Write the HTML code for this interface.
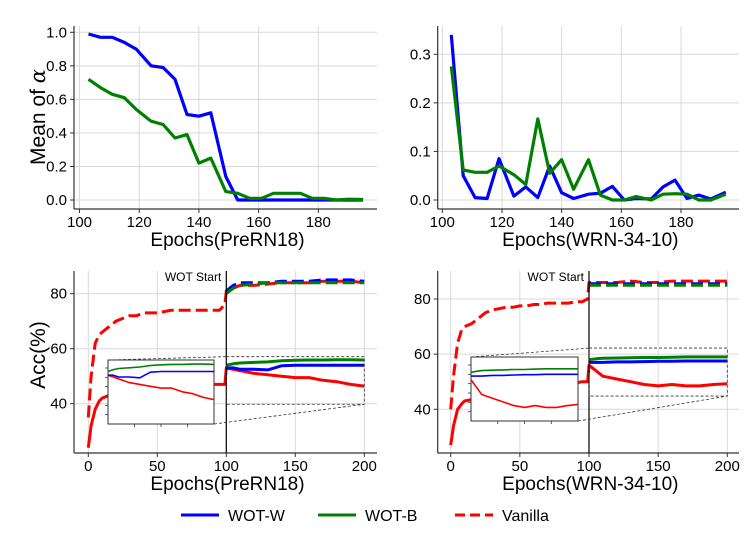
<!DOCTYPE html>
<html><head><meta charset="utf-8"><style>
html,body{margin:0;padding:0;background:#fff;}
svg{display:block;font-family:"Liberation Sans","DejaVu Sans",sans-serif;}
</style></head><body>
<svg id="fig" width="747" height="534" viewBox="0 0 747 534" xmlns="http://www.w3.org/2000/svg"></svg>
<script>
// ---- Top panels data ----
const alphaEpochs = [103,107,111,115,119,124,128,132,136,140,144,149,153,157,161,165,170,174,178,182,186,190,195];
const preBlue  = [0.99,0.97,0.97,0.94,0.90,0.80,0.79,0.72,0.51,0.50,0.52,0.14,0,0,0,0,0,0,0,0,0,0,0];
const preGreen = [0.72,0.67,0.63,0.61,0.54,0.47,0.45,0.37,0.39,0.22,0.25,0.05,0.04,0.01,0.01,0.04,0.04,0.04,0.01,0.01,0,0.005,0.003];
const wrnBlue  = [0.34,0.05,0.005,0.003,0.085,0.008,0.027,0.005,0.07,0.015,0.003,0.012,0.014,0.028,0,0.003,0.002,0.027,0.041,0.003,0.01,0.002,0.016];
const wrnGreen = [0.275,0.062,0.057,0.057,0.07,0.052,0.032,0.167,0.055,0.083,0.022,0.083,0.01,0,0,0.007,0,0.012,0.013,0.012,0,0,0.012];
const preYTicks = [0.0,0.2,0.4,0.6,0.8,1.0];
const wrnYTicks = [0.0,0.1,0.2,0.3];
const alphaXTicks = [100,120,140,160,180];
// ---- Bottom panels data ----
const vanEpochs = [0,2,5,8,10,15,20,25,30,35,40,45,50,55,60,65,70,75,80,85,90,95,99,100,105,110,120,130,140,150,160,170,180,190,200];
const preVanClean = [35,50,62,65,66,68,70,71,72,72,73,73,73,73.5,74,74,74,74,74,74,74,74,76,81,82,83,83,83.5,84,84,84,84.5,84.5,84.5,84];
const preVanRob   = [24,32,38,41,42,43,44,44.5,45,45,45.5,45.5,46,46,46,46,46.5,46.5,46.5,46.5,47,47,47,53,52.5,52,51,50.5,50,49.5,49.5,48.5,48,47,46.4];
const wrnVanClean = [40,52,64,69,70,71,73,75,76,76.5,77,77,77.5,77.5,78,78,78.5,78.5,78.5,78.5,79,79,80,86,86,86,86,86.5,86,86,86.5,86.5,86.5,86.5,86.5];
const wrnVanRob   = [27,34,40,42,43,43.5,44,44.5,45,45,45.5,46,46,46.5,47,47,47.5,48,48,49,49.5,50,50,56,54,52,51,50,49,48.5,49,48.5,48.5,49,49.3];
const wotEpochs = [100,105,110,120,130,140,150,160,170,180,190,200];
const preWotWClean = [81,83,84,84,84,84.5,84.5,84.5,85,85,85,84.5];
const preWotBClean = [80,82,83,83.5,84,84,84,84,84,84,84,84];
const preWotWRob   = [53,53,52.5,52.5,52.3,53.8,54,54,54,54,54,54];
const preWotBRob   = [54,54.5,54.8,55,55.2,55.6,55.8,55.9,55.9,56,56,55.9];
const wrnWotWClean = [85.5,85.5,85.5,85.5,85.5,85.5,85.5,85.5,85.5,85.5,85.5,85.5];
const wrnWotBClean = [85,85,85,85,85,85,85,85,85,85,85,85];
const wrnWotWRob   = [57,57,57,57.2,57.2,57.3,57.4,57.4,57.5,57.5,57.5,57.5];
const wrnWotBRob   = [58,58.3,58.5,58.6,58.7,58.8,58.8,58.9,59,59,59,59];
const accXTicks = [0,50,100,150,200];
const accYTicks = [40,60,80];

const NS="http://www.w3.org/2000/svg";
const svg=document.getElementById('fig');
function mk(tag,attrs,parent){const e=document.createElementNS(NS,tag);for(const k in attrs)e.setAttribute(k,attrs[k]);(parent||svg).appendChild(e);return e;}
function lin(d0,d1,r0,r1){return v=>r0+(v-d0)/(d1-d0)*(r1-r0);}
const BLUE='#0000ff',GREEN='#008000',RED='#ff0000';
function line(xs,ys,sx,sy,color,w,dash,name,parent){
  const p=mk('polyline',{points:xs.map((x,i)=>sx(x).toFixed(1)+','+sy(ys[i]).toFixed(1)).join(' '),fill:'none',stroke:color,'stroke-width':w,'stroke-linejoin':'round'},parent);
  if(dash)p.setAttribute('stroke-dasharray',dash);
  
  
  return p;
}
function axes(P){
  const g=mk('g',{});
  
  
  P.xt.forEach(t=>{const x=P.sx(t);
    mk('line',{x1:x,x2:x,y1:P.top,y2:P.bot,stroke:'#d9d9d9','stroke-width':1},g);
    mk('line',{x1:x,x2:x,y1:P.bot,y2:P.bot+4,stroke:'#333','stroke-width':1},g);
    const t1=mk('text',{x:x,y:P.bot+18,'font-size':15,'text-anchor':'middle',fill:'#000'},g);t1.textContent=P.xf(t);
    
    
  });
  P.yt.forEach(t=>{const y=P.sy(t);
    mk('line',{x1:P.left,x2:P.right,y1:y,y2:y,stroke:'#d9d9d9','stroke-width':1},g);
    mk('line',{x1:P.left-4,x2:P.left,y1:y,y2:y,stroke:'#333','stroke-width':1},g);
    const t1=mk('text',{x:P.left-7,y:y+5,'font-size':15,'text-anchor':'end',fill:'#000'},g);t1.textContent=P.yf(t);
    
    
  });
  mk('line',{x1:P.left,x2:P.left,y1:P.top,y2:P.bot,stroke:'#333','stroke-width':1.2},g);
  mk('line',{x1:P.left,x2:P.right,y1:P.bot,y2:P.bot,stroke:'#333','stroke-width':1.2},g);
  const xl=mk('text',{x:(P.left+P.right)/2+2,y:P.bot+37,'font-size':19,'text-anchor':'middle'},g);xl.textContent=P.xlabel;
  
  
  if(P.ylabel){const yl=mk('text',{x:0,y:0,'font-size':21,'text-anchor':'middle',transform:`translate(45,${P.ylc}) rotate(-90)`},g);yl.innerHTML=P.ylabel;
    
    }
}
// Top-left
{const sx=lin(100,180,79.5,318.3),sy=lin(0,1,200,32.3);
 axes({name:'alpha-prern18-panel',left:74,right:377,top:26,bot:209,sx,sy,xt:alphaXTicks,yt:preYTicks,xf:t=>t,yf:t=>t.toFixed(1),xlabel:'Epochs(PreRN18)',ylabel:'Mean of <tspan font-style="italic" font-family="DejaVu Serif">α</tspan>',ylc:117});
 line(alphaEpochs,preBlue,sx,sy,BLUE,3.2,null,'wot-w-alpha-line');
 line(alphaEpochs,preGreen,sx,sy,GREEN,3.2,null,'wot-b-alpha-line');}
// Top-right
{const sx=lin(100,180,442.3,681),sy=lin(0,0.3,200,54.3);
 axes({name:'alpha-wrn-panel',left:437.7,right:739,top:26,bot:209,sx,sy,xt:alphaXTicks,yt:wrnYTicks,xf:t=>t,yf:t=>t.toFixed(1),xlabel:'Epochs(WRN-34-10)'});
 line(alphaEpochs,wrnBlue,sx,sy,BLUE,3.2,null,'wot-w-alpha-line');
 line(alphaEpochs,wrnGreen,sx,sy,GREEN,3.2,null,'wot-b-alpha-line');}
function accPanel(o){
  const sx=lin(0,200,o.x0,o.x200),sy=lin(40,80,o.y40,o.y80);
  axes({name:o.name,left:o.left,right:o.right,top:271,bot:453,sx,sy,xt:accXTicks,yt:accYTicks,xf:t=>t,yf:t=>t,xlabel:o.xlabel,ylabel:o.ylabel,ylc:355});
  line(vanEpochs,o.vc,sx,sy,RED,3,'12,5','vanilla-clean-line');
  line(vanEpochs,o.vr,sx,sy,RED,3,null,'vanilla-robust-line');
  line(wotEpochs,o.wc,sx,sy,BLUE,3,'12,5','wot-w-clean-line');
  line(wotEpochs,o.bc,sx,sy,GREEN,3,'12,5','wot-b-clean-line');
  line(wotEpochs,o.wr,sx,sy,BLUE,3,null,'wot-w-robust-line');
  line(wotEpochs,o.br,sx,sy,GREEN,3,null,'wot-b-robust-line');
  // vertical start line
  const vx=sx(100);
  mk('line',{x1:vx,x2:vx,y1:271,y2:453,stroke:'#000','stroke-width':1.2});
  const ws=mk('text',{x:vx-5,y:281,'font-size':12,'text-anchor':'end'});ws.textContent='WOT Start';
  
  
  // zoom box
  const bx0=sx(100),bx1=sx(200),by0=sy(o.zt),by1=sy(o.zb);
  const zb=mk('rect',{x:bx0,y:by0,width:bx1-bx0,height:by1-by0,fill:'none',stroke:'#333','stroke-width':0.8,'stroke-dasharray':'3,2'});
  
  
  mk('line',{x1:o.ix0,y1:o.iy0,x2:bx0,y2:by0,stroke:'#333','stroke-width':0.8,'stroke-dasharray':'3,2'});
  mk('line',{x1:o.ix1,y1:o.iy1,x2:bx1,y2:by1,stroke:'#333','stroke-width':0.8,'stroke-dasharray':'3,2'});
  // inset
  const g=mk('g',{});
  
  
  mk('rect',{x:o.ix0,y:o.iy0,width:o.ix1-o.ix0,height:o.iy1-o.iy0,fill:'#fff',stroke:'#333','stroke-width':1},g);
  const isx=lin(100,200,o.ix0,o.ix1),isy=lin(o.zb,o.zt,o.iy1,o.iy0);
  for(let i=1;i<4;i++){const x=o.ix0+(o.ix1-o.ix0)*i/4;mk('line',{x1:x,x2:x,y1:o.iy1,y2:o.iy1+3,stroke:'#333','stroke-width':0.8},g);}
  for(let i=0;i<6;i++){const y=o.iy0+8+(o.iy1-o.iy0-8)*i/6;mk('line',{x1:o.ix0-3,x2:o.ix0,y1:y,y2:y,stroke:'#333','stroke-width':0.8},g);}
  const vi=vanEpochs.map((e,i)=>[e,o.vr[i]]).filter(p=>p[0]>=100);
  line(vi.map(p=>p[0]),vi.map(p=>p[1]),isx,isy,RED,1.6,null,'inset-vanilla-line',g);
  line(wotEpochs,o.wr,isx,isy,BLUE,1.6,null,'inset-wot-w-line',g);
  line(wotEpochs,o.br,isx,isy,GREEN,1.6,null,'inset-wot-b-line',g);
}
accPanel({name:'acc-prern18-panel',left:74,right:377,x0:88.3,x200:364.3,y40:403.7,y80:293.7,
  vc:preVanClean,vr:preVanRob,wc:preWotWClean,bc:preWotBClean,wr:preWotWRob,br:preWotBRob,
  zt:57.1,zb:39.8,ix0:108,iy0:360,ix1:214,iy1:424,xlabel:'Epochs(PreRN18)',ylabel:'Acc(%)'});
accPanel({name:'acc-wrn-panel',left:437.7,right:739,x0:450.7,x200:727.3,y40:409.3,y80:299,
  vc:wrnVanClean,vr:wrnVanRob,wc:wrnWotWClean,bc:wrnWotBClean,wr:wrnWotWRob,br:wrnWotBRob,
  zt:62.2,zb:44.8,ix0:471,iy0:357,ix1:578,iy1:421,xlabel:'Epochs(WRN-34-10)'});
// legend
const lg=mk('g',{});


[['WOT-W',BLUE,null,181],['WOT-B',GREEN,null,318],['Vanilla',RED,'10,5',455]].forEach(([n,c,d,x])=>{
  const e=mk('g',{},lg);
  
  
  const l=mk('line',{x1:x,x2:x+38,y1:515,y2:515,stroke:c,'stroke-width':3},e);if(d)l.setAttribute('stroke-dasharray',d);
  const t=mk('text',{x:x+47,y:521,'font-size':16},e);t.textContent=n;
});
</script>
</body></html>
